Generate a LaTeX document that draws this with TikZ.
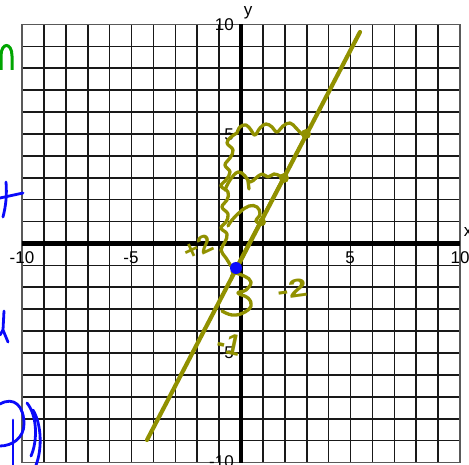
\documentclass[tikz,border=0pt]{standalone}
\usepackage{fontspec}
\setmainfont{Liberation Sans}
\definecolor{olv}{RGB}{145,145,0}
\definecolor{pen}{RGB}{10,10,250}
\definecolor{grn}{RGB}{0,165,0}
\begin{document}
\begin{tikzpicture}[x=1pt,y=-1pt,
  gridln/.style={black!90,line width=1.6pt},
  axisln/.style={black,line width=4.5pt},
  lbl/.style={font=\fontsize{17}{17}\selectfont,inner sep=0pt},
  olvpen/.style={olv,line width=3.3pt,line cap=round,line join=round},
  bluepen/.style={pen,line width=2.8pt,line cap=round,line join=round},
  hand/.style={olv,font=\fontsize{26}{26}\selectfont\bfseries,inner sep=0pt}]
\useasboundingbox (0,0) rectangle (469,465);
% grid
\foreach \i in {-9,...,9}{
  \draw[gridln] ({241+21.9*\i},24.5) -- ({241+21.9*\i},462.5);
  \draw[gridln] (22,{243.5+21.9*\i}) -- (460,{243.5+21.9*\i});
}
\draw[black!65,line width=1.8pt] (22,24.5) rectangle (460,462.5);
% axes
\draw[axisln] (22,243.5) -- (460,243.5);
\draw[axisln] (241,24.5) -- (241,462.5);
% axis labels
\node[lbl] (ylab) at (248,13) {y};
\node[lbl] (xlab) at (468,232) {x};
\node[lbl,anchor=east] (y10) at (234,25) {10};
\node[lbl,anchor=east] (y5) at (234,135) {5};
\node[lbl,anchor=east] (ym5) at (234,353) {-5};
\node[lbl,anchor=east] (ym10) at (234,462) {-10};
\node[lbl] (xm10) at (22,258) {-10};
\node[lbl] (xm5) at (131,258) {-5};
\node[lbl] (x5) at (350,258) {5};
\node[lbl] (x10) at (460,258) {10};
% main line
\draw[olv,line width=4.2pt,line cap=round] (147,440) -- (360,32);
% thin lines
\draw[olv,line width=2pt,line cap=round] (231,276) -- (309,128);
\draw[olv,line width=1.5pt,line cap=round] (236,272) -- (303,140);
% markers
\fill[olv] (306,134) circle (5);
\fill[olv] (284,178) circle (5);
\fill[olv] (262,222) circle (4);
% clouds
\draw[olvpen] plot[smooth,tension=0.7] coordinates {(237,133) (240,127) (246,125) (251,130) (255,135) (260,128) (266,124) (272,127) (277,132) (283,126) (290,123) (296,128) (302,134) (306,134)};
\draw[olvpen] plot[smooth,tension=0.7] coordinates {(237,133) (231,137) (227,143) (233,150) (230,158) (225,165) (230,172) (226,180) (221,186) (228,192) (227,200) (222,207) (228,214) (226,222) (221,228) (227,234) (225,242) (221,250) (226,258) (231,266)};
\draw[olvpen] plot[smooth,tension=0.7] coordinates {(225,190) (230,180) (238,172) (245,176) (250,182) (256,178) (262,174) (268,177) (274,174) (280,176) (284,178)};
\draw[olvpen] (248,181) -- (249,189);
\draw[olvpen] plot[smooth,tension=0.7] coordinates {(228,226) (232,220) (240,212) (249,206) (257,207) (260,214) (256,221) (262,224)};
% lower wave under dot
\draw[olvpen] plot[smooth,tension=0.7] coordinates {(232,272) (244,276) (251,282) (246,290) (238,293) (248,298) (251,306) (243,313) (232,315) (222,311)};
% blue point
\fill[pen] (236,268) circle (6);
% hand labels
\node[hand,rotate=25] (p2) at (198,247) {+2};
\node[hand,rotate=8,xscale=1.3] (m2) at (292,289) {-2};
\node[hand,rotate=-12,yscale=1.15] (m1) at (229,344) {-1};
% left margin fragments
\draw[grn,line width=3pt] (1,70) -- (1,56) .. controls (1,42) and (12,42) .. (12,56) -- (12,70);
\draw[bluepen] (0,198) -- (23,193);
\draw[bluepen] (6,182) .. controls (7,195) and (6,205) .. (3,217);
\draw[bluepen] (4,311) -- (3,330) -- (8,342);
\draw[bluepen] (3,330) -- (0,335);
\draw[bluepen] (0,404) .. controls (14,396) and (24,406) .. (24,424) .. controls (24,438) and (12,446) .. (0,446);
\draw[bluepen] (13,420) -- (13,465);
\draw[bluepen] (27,403) .. controls (37,415) and (38,440) .. (31,456);
\draw[bluepen] (33,410) .. controls (42,425) and (42,450) .. (36,465);
\end{tikzpicture}
\end{document}
